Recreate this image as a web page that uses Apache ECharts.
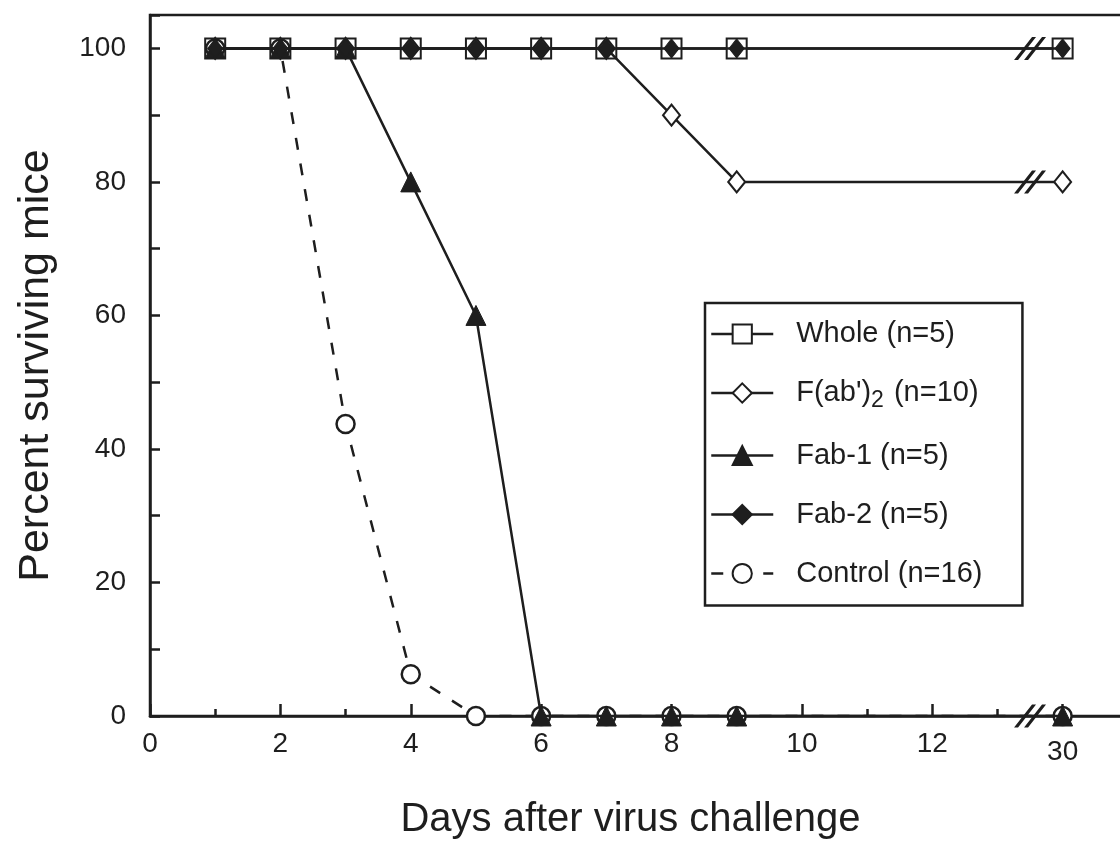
<!DOCTYPE html>
<html>
<head>
<meta charset="utf-8">
<script src="https://cdn.jsdelivr.net/npm/echarts@6/dist/echarts.min.js"></script>
<style>
  html, body { margin: 0; padding: 0; background: #fff; }
  #chart { width: 1120px; height: 848px; }
</style>
</head>
<body>
<div id="chart"></div>
<script>
// ---- data ----
const days = [1, 2, 3, 4, 5, 6, 7, 8, 9, 30];
const wholeVals   = [100, 100, 100, 100, 100, 100, 100, 100, 100, 100];
const fabPrimeVals = [100, 100, 100, 100, 100, 100, 100, 90, 80, 80];
const fab1Vals    = [100, 100, 100, 80, 60, 0, 0, 0, 0, 0];
const fab2Vals    = [100, 100, 100, 100, 100, 100, 100, 100, 100, 100];
const controlVals = [100, 100, 43.75, 6.25, 0, 0, 0, 0, 0, 0];
const seriesNames = ['Whole (n=5)', "F(ab')2 (n=10)", 'Fab-1 (n=5)', 'Fab-2 (n=5)', 'Control (n=16)'];
const xTickPos = [0, 2, 4, 6, 8, 10, 12, 14];
const xTickLabels = ['0', '2', '4', '6', '8', '10', '12', '30'];
const yTickLabels = [0, 20, 40, 60, 80, 100];
const breakX = 13.5; // position of the axis break between day 12 and day 30

// broken axis: day 30 is drawn at axis position 14
const dayPos = d => (d === 30 ? 14 : d);
const pts = vals => days.map((d, i) => [dayPos(d), vals[i]]);

const ink = '#1e1e1e';
const font = "'Liberation Sans', Arial, Helvetica, sans-serif";
const breakPath = 'path://M0,23 L18,0 L22,0 L4,23 Z M10,23 L28,0 L32,0 L14,23 Z';
const breakMark = y => ({
  symbol: breakPath,
  symbolSize: [32, 23],
  itemStyle: { color: ink },
  label: { show: false },
  data: [{ coord: [breakX, y] }],
  silent: true
});

const chart = echarts.init(document.getElementById('chart'), null, { renderer: 'canvas' });

const lineBase = {
  type: 'line',
  lineStyle: { color: ink, width: 2.5 },
  itemStyle: { color: '#fff', borderColor: ink, borderWidth: 2 },
  animation: false
};

chart.setOption({
  backgroundColor: '#fff',
  animation: false,
  grid: {
    left: 150, top: 15, width: 1043, height: 701,
    containLabel: false,
    outerBoundsMode: 'none',
    show: true, borderColor: ink, borderWidth: 2.5, backgroundColor: 'transparent'
  },
  legend: {
    orient: 'vertical',
    left: 705, top: 303,
    padding: [15, 40, 16, 5],
    itemGap: 27,
    itemWidth: 62, itemHeight: 24,
    borderColor: ink, borderWidth: 2.5,
    data: seriesNames,
    lineStyle: { width: 2.5 },
    textStyle: {
      fontFamily: font, fontSize: 29, color: ink, lineHeight: 32,
      padding: [0, 0, 0, 18],
      rich: {
        sub: { fontFamily: font, fontSize: 23, color: ink, padding: [16, 2, 0, 0] }
      }
    },
    formatter: name => (name === seriesNames[1] ? "F(ab'){sub|2} (n=10)" : name)
  },
  xAxis: {
    type: 'value', min: 0, max: 16, interval: 2,
    axisLine: { show: true, lineStyle: { color: ink, width: 2.5 } },
    axisTick: { show: true, inside: true, length: 12, lineStyle: { color: ink, width: 2.5 } },
    minorTick: { show: true, splitNumber: 2, length: 7, lineStyle: { color: ink, width: 2.5 } },
    splitLine: { show: false },
    axisLabel: {
      margin: 14, fontFamily: font, fontSize: 28, color: ink,
      formatter: v => {
        const i = xTickPos.indexOf(v);
        if (i < 0) return '';
        return xTickLabels[i] === '30' ? '{low|30}' : xTickLabels[i];
      },
      rich: { low: { fontFamily: font, fontSize: 28, color: ink, padding: [8, 0, 0, 0] } }
    },
    name: 'Days after virus challenge',
    nameLocation: 'middle',
    nameGap: 84,
    nameTextStyle: { fontFamily: font, fontSize: 40, color: ink, padding: [0, 82, 0, 0] }
  },
  yAxis: {
    type: 'value', min: 0, max: 105, interval: 10,
    axisLine: { show: true, lineStyle: { color: ink, width: 2.5 } },
    axisTick: { show: true, inside: true, length: 10, lineStyle: { color: ink, width: 2.5 } },
    splitLine: { show: false },
    axisLabel: {
      margin: 24, fontFamily: font, fontSize: 28, color: ink,
      formatter: v => (yTickLabels.indexOf(v) >= 0 ? String(v) : '')
    },
    name: 'Percent surviving mice',
    nameLocation: 'middle',
    nameGap: 92,
    nameTextStyle: { fontFamily: font, fontSize: 43, color: ink }
  },
  series: [
    Object.assign({}, lineBase, {
      name: seriesNames[0], data: pts(wholeVals), symbol: 'rect', symbolSize: 20, z: 2,
      markPoint: breakMark(100)
    }),
    Object.assign({}, lineBase, {
      name: seriesNames[1], data: pts(fabPrimeVals), symbol: 'diamond', symbolSize: [17, 21], z: 3,
      markPoint: breakMark(80)
    }),
    Object.assign({}, lineBase, {
      name: seriesNames[4], data: pts(controlVals), symbol: 'circle', symbolSize: 18, z: 4,
      lineStyle: { color: ink, width: 2.5, type: [12, 14] },
      itemStyle: { color: '#fff', borderColor: ink, borderWidth: 2.5 }
    }),
    Object.assign({}, lineBase, {
      name: seriesNames[2], data: pts(fab1Vals), symbol: 'triangle', symbolSize: 20, z: 5,
      itemStyle: { color: ink, borderColor: ink, borderWidth: 1 },
      markPoint: breakMark(0)
    }),
    Object.assign({}, lineBase, {
      name: seriesNames[3], data: pts(fab2Vals), symbol: 'diamond', symbolSize: [15, 19], z: 6,
      itemStyle: { color: ink, borderColor: ink, borderWidth: 1 }
    })
  ]
});
</script>
</body>
</html>
